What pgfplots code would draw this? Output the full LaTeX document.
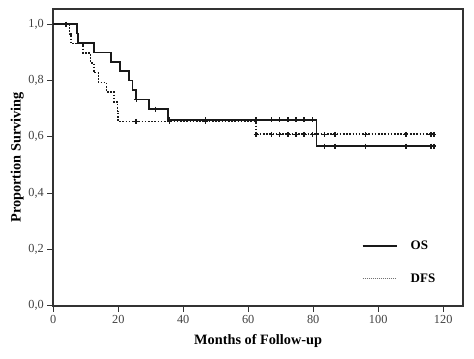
\documentclass[border=0pt]{standalone}
\usepackage{fontspec}
\setmainfont{Liberation Serif}
\usepackage{pgfplots}
\pgfplotsset{compat=1.18}

\begin{document}
\begin{tikzpicture}
\begin{axis}[
  scale only axis, width=410pt, height=297pt,
  xmin=0, xmax=126.1, ymin=0, ymax=1.054,
  xtick={0,20,40,60,80,100,120}, ytick={0,0.2,0.4,0.6,0.8,1.0},
  tick align=outside, tick pos=left, major tick length=6pt,
  axis line style={line width=1.6pt, black!80},
  every tick/.style={line width=1.2pt, black!80},
  yticklabel style={/pgf/number format/.cd, use comma, fixed, fixed zerofill, precision=1},
  /pgf/number format/assume math mode=true,
  ticklabel style={font=\fontsize{12.3}{14}\selectfont, text=black!75},
  xlabel={Months of Follow-up}, ylabel={Proportion Surviving},
  label style={font=\fontsize{14.3}{16}\selectfont\bfseries},
  xlabel style={at={(axis description cs:0.5,-0.12)}, anchor=center},
  ylabel style={at={(axis description cs:-0.088,0.5)}, anchor=center},
  legend style={draw=none, fill=none, at={(axis description cs:0.745,0.147)}, anchor=west,
    font=\fontsize{13}{15}\selectfont\bfseries, row sep=19pt},
  legend cell align=left,
]
% OS step curve
\addplot[const plot, black!90, line width=1.7pt, forget plot] coordinates {
 (0,1) (7.2,0.967) (7.7,0.933) (12.5,0.900) (17.8,0.867) (20.5,0.833) (23.4,0.800)
 (24.4,0.767) (25.4,0.733) (29.5,0.698) (35.4,0.661) (81.0,0.567) (117.4,0.567)};
% DFS step curve
\addplot[const plot, black!90, line width=1.7pt, dash pattern=on 1.6pt off 1.6pt, forget plot] coordinates {
 (0,1) (5.0,0.966) (5.4,0.931) (9.2,0.897) (11.5,0.862) (12.5,0.828) (13.9,0.793)
 (16.4,0.759) (18.7,0.724) (19.8,0.690) (20.0,0.655) (62.3,0.609) (117.4,0.609)};
% OS censored
\addplot[only marks, mark=+, mark size=2.5pt, mark options={line width=1.5pt, black!90}, forget plot] coordinates {
 (25.6,0.733) (31.4,0.698) (35.8,0.661) (46.8,0.661) (62.4,0.661) (67.2,0.661) (69.7,0.661)
 (72.3,0.661) (74.7,0.661) (77.2,0.661) (79.8,0.661) (83.4,0.567) (86.7,0.567) (96.1,0.567)
 (108.5,0.567) (116.2,0.567) (117.1,0.567)};
% DFS censored
\addplot[only marks, mark=+, mark size=2.5pt, mark options={line width=1.5pt, black!90}, forget plot] coordinates {
 (3.9,1.0) (25.4,0.655) (35.8,0.655) (46.8,0.655) (62.4,0.609) (67.2,0.609) (69.7,0.609)
 (72.3,0.609) (74.7,0.609) (77.2,0.609) (79.8,0.609) (83.4,0.609) (86.7,0.609) (96.1,0.609)
 (108.5,0.609) (116.2,0.609) (117.1,0.609)};
\addlegendimage{legend image code/.code={\draw[black!90, line width=2pt] (0pt,0pt) -- (34pt,0pt);}}
\addlegendentry{\hspace{11pt}OS}
\addlegendimage{legend image code/.code={\draw[black!55, line width=0.8pt, dash pattern=on 1pt off 1pt] (0pt,0pt) -- (34pt,0pt);}}
\addlegendentry{\hspace{11pt}DFS}
\end{axis}
\path (current axis.south west) ++(-53.3pt,-53pt);
\path (current axis.north east) ++(11pt,9pt);
\end{tikzpicture}
\end{document}
